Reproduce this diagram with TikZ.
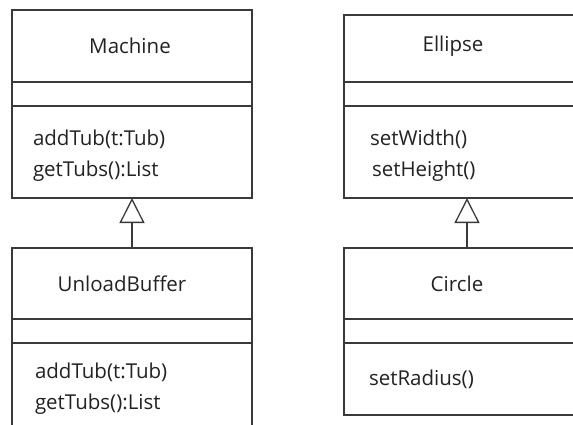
\documentclass[tikz,border=0pt]{standalone}
\usepackage{fontspec}
\setmainfont{Open Sans}
\usepackage{xcolor}
\usepackage{tikz}
\usetikzlibrary{positioning,arrows.meta}
\definecolor{umlline}{HTML}{3A3A3A}
\definecolor{umltext}{HTML}{222222}
\newcommand{\opsstrut}{\rule{0pt}{23pt}}

\begin{document}
\begin{tikzpicture}[
  x=1pt, y=-1pt,
  compart/.style 2 args={
    rectangle, draw=umlline, line width=1.3pt,
    outer sep=0pt, inner sep=0pt, anchor=north west,
    minimum width=#1, minimum height=#2,
  },
  opsbox/.style={
    inner xsep=#1, text width=240pt, align=left,
    font=\fontsize{20.5}{31}\selectfont, text=umltext,
  },
  classname/.style={font=\fontsize{20.5}{25}\selectfont, text=umltext},
  inherit/.style={-{Triangle[open, length=25pt, width=25pt]}, draw=umlline, line width=1.3pt},
]
\useasboundingbox (0,0) rectangle (573,424);
\clip (0,0) rectangle (573,424);

% left: Machine and UnloadBuffer
\node[compart={240pt}{72pt}] (machhead) at (12,10) {};
\node[compart={240pt}{24pt}, below=0pt of machhead] (machattr) {};
\node[compart={240pt}{92pt}, opsbox=21pt, text width=198pt, below=0pt of machattr] (machops) {
  \opsstrut addTub(t:Tub)\\
  getTubs():List
};
\node[classname] (machname) at ([xshift=-2pt]machhead.center) {Machine};

\node[compart={240pt}{71pt}] (ubufhead) at (12,248) {};
\node[compart={240pt}{24pt}, below=0pt of ubufhead] (ubufattr) {};
\node[compart={240pt}{84pt}, opsbox=23pt, text width=194pt, below=0pt of ubufattr] (ubufops) {
  \opsstrut addTub(t:Tub)\\
  getTubs():List
};
\node[classname] (ubufname) at ([xshift=-10pt]ubufhead.center) {UnloadBuffer};

% right: Ellipse and Circle
\node[compart={246pt}{67pt}] (ellhead) at (344,15) {};
\node[compart={246pt}{24pt}, below=0pt of ellhead] (ellattr) {};
\node[compart={246pt}{92pt}, opsbox=26pt, text width=194pt, below=0pt of ellattr] (ellops) {
  \opsstrut setWidth()\\
  \hspace*{2pt}setHeight()
};
\node[classname] (ellname) at ([xshift=-14pt, yshift=2pt]ellhead.center) {Ellipse};

\node[compart={246pt}{71pt}] (circhead) at (344,248) {};
\node[compart={246pt}{24pt}, below=0pt of circhead] (circattr) {};
\node[compart={246pt}{72pt}, opsbox=25pt, text width=196pt, below=0pt of circattr] (circops) {
  setRadius()
};
\node[classname] (circname) at ([xshift=-10pt]circhead.center) {Circle};

\draw[inherit] (ubufhead.north) -- (machops.south);
\draw[inherit] (circhead.north) -- (ellops.south);

\end{tikzpicture}
\end{document}
